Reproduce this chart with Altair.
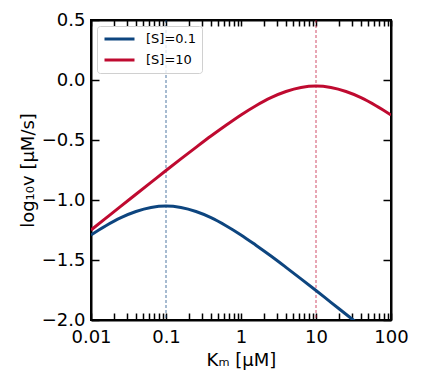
import altair as alt
import pandas as pd

# Km values (µM), log-spaced reading positions
km = [0.01, 0.0158, 0.0251, 0.0398, 0.0631, 0.1, 0.158, 0.251, 0.398, 0.631,
      1, 1.58, 2.51, 3.98, 6.31, 10, 15.8, 25.1, 39.8, 63.1, 100]
# log10 v for each series
logv_s01 = [-1.291, -1.214, -1.147, -1.096, -1.063, -1.051, -1.063, -1.096, -1.147, -1.214,
            -1.291, -1.377, -1.467, -1.561, -1.657, -1.754, -1.853, -1.952, -2.051, -2.151, -2.25]
logv_s10 = [-1.250, -1.151, -1.051, -0.952, -0.853, -0.754, -0.657, -0.561, -0.467, -0.377,
            -0.291, -0.214, -0.147, -0.096, -0.063, -0.051, -0.063, -0.096, -0.147, -0.214, -0.291]

series = ["[S]=0.1", "[S]=10"]
s_values = [0.1, 10]
colors = ["#0d457f", "#bf0a30"]

x_major = [0.01, 0.1, 1, 10, 100]
x_ticks = [m * d for d in [0.01, 0.1, 1, 10] for m in range(1, 10)] + [100]
y_ticks = [-2.0, -1.5, -1.0, -0.5, 0.0, 0.5]

rows = []
for name, vals in zip(series, [logv_s01, logv_s10]):
    for k, v in zip(km, vals):
        rows.append({"Km": k, "logv": v, "series": name})
df = pd.DataFrame(rows)

W, H = 300, 300
FONT = "DejaVu Sans"
xscale = alt.Scale(type="log", domain=[0.01, 100], nice=False, padding=0)
yscale = alt.Scale(domain=[-2, 0.5], nice=False, padding=0)

lines = alt.Chart(df).mark_line(strokeWidth=3, clip=True, interpolate="monotone").encode(
    x=alt.X("Km:Q", scale=xscale, title="Kₘ [μM]",
            axis=alt.Axis(orient="bottom", values=x_major, labelExpr="format(datum.value, '~g')",
                          ticks=False, domain=False, grid=False, labelFontSize=18, labelPadding=8,
                          labelFlush=False, labelColor="black", titleColor="black", titleFontSize=18,
                          titleFontWeight="normal", titlePadding=5, labelFont=FONT, titleFont=FONT)),
    y=alt.Y("logv:Q", scale=yscale, title="log₁₀v [μM/s]",
            axis=alt.Axis(orient="left", values=y_ticks, format=".1f",
                          ticks=False, domain=False, grid=False, labelFontSize=18, labelPadding=6,
                          labelFlush=False, labelColor="black", titleColor="black", titleFontSize=18,
                          titleFontWeight="normal", titlePadding=4, labelFont=FONT, titleFont=FONT)),
    color=alt.Color("series:N", scale=alt.Scale(domain=series, range=colors),
                    legend=alt.Legend(title=None, orient="top-left", offset=6, padding=6,
                                      symbolType="stroke", symbolSize=900, symbolStrokeWidth=3,
                                      labelFontSize=13, labelFont=FONT, labelColor="black",
                                      labelOffset=10, clipHeight=14, rowPadding=7,
                                      strokeColor="#d0d0d0", cornerRadius=3,
                                      fillColor="rgba(255,255,255,0.8)")),
)


def tick_layer(xorient, yorient, xc, yc, xsize, ysize):
    # inward-pointing ticks: axis placed on the opposite edge via a negative offset
    return alt.Chart(df).mark_line(opacity=0).encode(
        x=alt.X("Km:Q", scale=xscale, title=None,
                axis=alt.Axis(orient=xorient, offset=-H, values=x_ticks, labels=False,
                              domain=True, domainColor=xc, domainWidth=2, grid=False,
                              tickColor=xc, tickWidth=1.5, tickSize=xsize)),
        y=alt.Y("logv:Q", scale=yscale, title=None,
                axis=alt.Axis(orient=yorient, offset=-W, values=y_ticks, labels=False,
                              domain=True, domainColor=yc, domainWidth=2, grid=False,
                              tickColor=yc, tickWidth=1.5, tickSize=ysize)),
        detail="series:N",
    )


rules = [
    alt.Chart(pd.DataFrame({"Km": [sv]})).mark_rule(
        strokeDash=[3, 2], strokeWidth=1.2, color=c, opacity=0.6
    ).encode(x=alt.X("Km:Q", scale=xscale, axis=None))
    for sv, c in zip(s_values, colors)
]

chart = alt.layer(
    *rules, lines,
    tick_layer("top", "right", "#000000", "#010101", 7, 8),
    tick_layer("bottom", "left", "#020202", "#030303", 6, 8),
).resolve_axis(x="independent", y="independent").properties(
    width=W, height=H,
    autosize=alt.AutoSizeParams(type="none"),
    padding={"left": 83, "top": 12, "right": 24, "bottom": 56},
).configure(font=FONT).configure_view(stroke="black", strokeWidth=2)

chart.save("out.html", embed_options={"renderer": "svg", "actions": False})
